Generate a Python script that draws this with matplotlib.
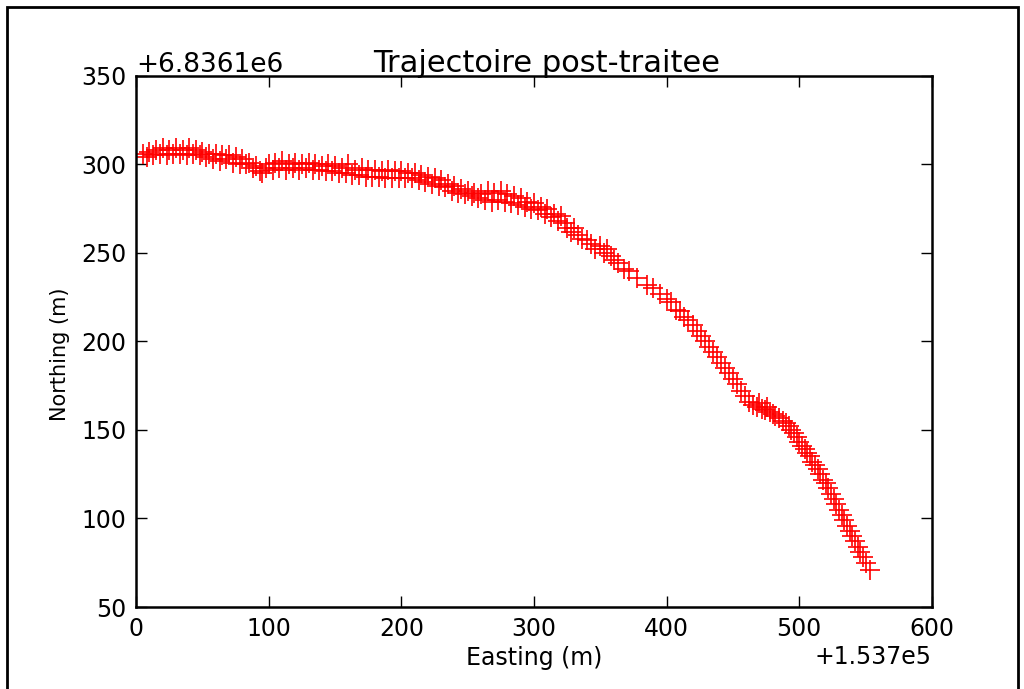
import matplotlib
matplotlib.use("Agg")
import matplotlib.pyplot as plt
from matplotlib.patches import Rectangle

# origine des coordonnees (Lambert)
east0 = 153700
north0 = 6836100

# trajectoire post-traitee (m, relatif a l'origine)
east = [5, 8, 10, 13, 15, 18, 20, 23, 25, 28, 30, 33, 35, 38, 40, 43, 45, 48, 50, 53,
        55, 58, 60, 63, 65, 68, 70, 73, 75, 78, 80, 83, 85, 88, 90, 93, 95, 98, 100,
        103, 105, 108, 110, 113, 115, 118, 120, 123, 125, 128, 130, 133, 135, 138, 140,
        143, 145, 148, 150, 153, 155, 158, 160, 163, 165, 168, 170, 173, 175, 178, 180,
        183, 185, 188, 190, 193, 195, 198, 200, 203, 205, 208, 210, 213, 215, 218, 220,
        223, 225, 228, 230, 233, 235, 238, 240, 243, 245, 248, 250, 253, 255, 258, 260,
        263, 265, 268, 270, 273, 275, 278, 280, 283, 285, 288, 290, 293, 295, 298, 300,
        303, 305, 308, 310, 313, 315, 318, 320, 323, 325, 328, 330,
        333, 336, 340, 343, 346, 350, 353, 355, 358, 360, 363, 368, 372, 378, 385, 390,
        395, 400, 403, 407, 410, 413, 416, 420, 423, 426, 429, 432, 435, 438, 441, 444,
        447, 450, 453, 456, 459, 462, 465, 468, 470, 472, 474, 476, 478, 480, 482, 485,
        488, 490, 492, 494, 496, 498, 500, 502, 504, 506, 508, 510, 512, 514, 516, 518,
        520, 522, 524, 526, 528, 530, 532, 534, 536, 538, 540, 542, 544, 546, 548, 550, 553]
north = [306, 304, 307, 305, 308, 306, 309, 305, 308, 306, 309, 306, 308, 305, 309, 306, 308, 305, 307, 304,
         306, 303, 306, 302, 305, 303, 305, 301, 304, 300, 303, 300, 301, 298, 299, 296, 295, 298, 300,
         297, 301, 298, 302, 297, 300, 298, 301, 297, 300, 298, 301, 297, 300, 297, 299,
         296, 300, 296, 299, 295, 298, 295, 300, 294, 297, 294, 298, 293, 297, 293, 297,
         293, 296, 292, 297, 292, 296, 292, 296, 292, 295, 292, 295, 291, 294, 290, 293,
         289, 292, 288, 291, 287, 289, 285, 288, 284, 286, 283, 285, 282, 284, 281, 283,
         280, 285, 279, 284, 280, 285, 279, 283, 278, 282, 277, 281, 276, 279, 275, 278,
         274, 276, 272, 275, 270, 272, 268, 271, 267, 264, 262, 264,
         260, 258, 257, 255, 252, 254, 250, 252, 248, 246, 244, 241, 240, 236, 232, 230,
         227, 224, 222, 218, 217, 214, 212, 209, 206, 203, 200, 197, 194, 191, 188, 185,
         182, 179, 176, 172, 169, 166, 164, 163, 165, 162, 161, 163, 160, 159, 158, 157,
         155, 154, 152, 150, 148, 146, 143, 141, 139, 137, 135, 132, 130, 128, 125, 122,
         120, 117, 114, 111, 108, 105, 102, 99, 96, 93, 90, 87, 84, 81, 78, 75, 71]

x = [east0 + e for e in east]
y = [north0 + n for n in north]

plt.rcParams["font.family"] = "DejaVu Sans"
plt.rcParams["font.size"] = 17

fig = plt.figure(figsize=(10.24, 6.89), dpi=100, facecolor="white")
ax = fig.add_axes([0.133, 0.119, 0.777, 0.771])

ax.plot(x, y, "r+", markersize=14, markeredgewidth=1.2)

ax.set_xlim(east0 + 0, east0 + 600)
ax.set_ylim(north0 + 50, north0 + 350)
ax.set_xticks([east0 + v for v in [0, 100, 200, 300, 400, 500, 600]])
ax.set_yticks([north0 + v for v in [50, 100, 150, 200, 250, 300, 350]])
ax.xaxis.get_major_formatter().set_useOffset(east0)
ax.yaxis.get_major_formatter().set_useOffset(north0)
ax.xaxis.get_offset_text().set_fontsize(17)
ax.yaxis.get_offset_text().set_fontsize(19)

ax.tick_params(direction="in", length=8, width=1, top=True, right=True,
               labelsize=17, pad=7)
for s in ax.spines.values():
    s.set_linewidth(1.8)

ax.set_title("Trajectoire post-traitee", fontsize=22, pad=3, x=0.516)
ax.set_xlabel("Easting (m)", fontsize=17, labelpad=4)
ax.set_ylabel("Northing (m)", fontsize=15, labelpad=8)
ax.yaxis.label.set_y(0.475)

# cadre autour de la figure
fig.patches.append(Rectangle((0.007, -0.05), 0.987, 1.04, transform=fig.transFigure,
                             fill=False, edgecolor="black", linewidth=2))

fig.savefig("out.png", dpi=100, facecolor="white")
